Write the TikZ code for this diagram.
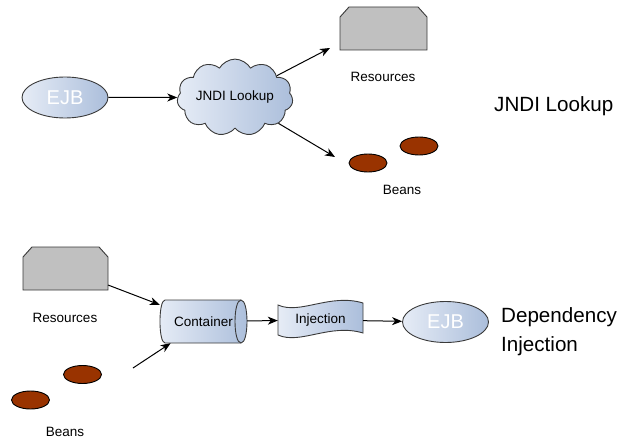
\documentclass[tikz,border=0pt]{standalone}
\usepackage{fontspec}
\setmainfont{Liberation Sans}
\usetikzlibrary{shapes.geometric,shapes.symbols,arrows.meta}
\definecolor{edgec}{HTML}{3A3A3A}
\definecolor{blueL}{HTML}{E6ECF6}
\definecolor{blueD}{HTML}{ABBEDB}
\definecolor{beanc}{HTML}{993300}
\definecolor{resc}{HTML}{C0C0C0}
\begin{document}
\begin{tikzpicture}[x=1pt,y=-1pt,
  blueshade/.style={left color=blueL,right color=blueD,draw=edgec,line width=0.9pt},
  ejb/.style={ellipse,blueshade,minimum width=86pt,minimum height=41pt,inner sep=0pt,text=white,font=\fontsize{20}{24}\selectfont},
  beanshape/.style={ellipse,fill=beanc,draw=black,line width=0.9pt,minimum width=38pt,minimum height=18pt,inner sep=0pt},
  small/.style={font=\fontsize{13.5}{16}\selectfont,inner sep=0pt},
  big/.style={font=\fontsize{20.6}{26}\selectfont,inner sep=0pt},
  resbox/.style={fill=resc,draw=edgec,line width=0.9pt},
  arr/.style={-{Stealth[length=10pt,width=8pt,inset=3pt]},line width=1pt,black},
  hold/.style={inner sep=0pt,small},
]
\useasboundingbox (0,0) rectangle (618,441);

% ---------- top: JNDI lookup ----------
\node[ejb] (ejb1) at (65,97.5) {EJB};
\node[cloud,cloud puffs=11,cloud puff arc=120,aspect=1.8,blueshade,
      minimum width=106pt,minimum height=59pt,small] (jndi) at (235,97.5) {JNDI Lookup};

\path[resbox] (340,50) -- (340,17) -- (349,7) -- (418,7) -- (427,17) -- (427,50) -- cycle;
\node[small] (reslab1) at (383,77) {Resources};

\node[beanshape] (beana1) at (368,163) {};
\node[beanshape] (beanb1) at (419,146) {};
\node[small] (beanlab1) at (402,190) {Beans};

\coordinate (restip1) at (330,48);
\coordinate (beantip1) at (335,157);
\draw[arr] (ejb1) -- (jndi);
\draw[arr] (jndi) -- (restip1);
\draw[arr] (jndi) -- (beantip1);

\node[big,anchor=base west] (title1) at (494,112) {JNDI Lookup};

% ---------- bottom: dependency injection ----------
\path[resbox] (23,290) -- (23,257) -- (32,247) -- (99,247) -- (108,257) -- (108,290) -- cycle;
\node[small] (reslab2) at (65,318) {Resources};

\node[beanshape] (beana2) at (82.5,374.5) {};
\node[beanshape] (beanb2) at (30.5,400) {};
\node[small] (beanlab2) at (65,432) {Beans};

% container (horizontal cylinder)
\path[blueshade] (241,300) -- (165,300)
   .. controls (158.3,300) and (158.3,343) .. (165,343)
   -- (241,343)
   .. controls (249,343) and (249,300) .. (241,300) -- cycle;
\draw[edgec,line width=0.9pt] (241,300) .. controls (233,300) and (233,343) .. (241,343);
\node[hold,minimum width=87pt,minimum height=43pt] (cont) at (203.5,321.5) {Container};

% injection (tape)
\path[blueshade] (278,305) .. controls (300,315) and (330,293) .. (363,303)
   -- (363,333) .. controls (330,323) and (300,345) .. (278,335) -- cycle;
\node[hold,minimum width=85pt,minimum height=28pt] (inj) at (320.5,320) {Injection};

\node[ejb] (ejb2) at (445.5,322) {EJB};

\coordinate (resstart2) at (108,285);
\coordinate (beanstart2) at (133,368);
\draw[arr] (resstart2) -- (cont);
\draw[arr] (beanstart2) -- (cont);
\draw[arr] (cont) -- (inj);
\draw[arr] (inj) -- (ejb2);

\node[big,anchor=base west] (title2a) at (501,322.5) {Dependency};
\node[big,anchor=base west] (title2b) at (501,351) {Injection};
\end{tikzpicture}
\end{document}
